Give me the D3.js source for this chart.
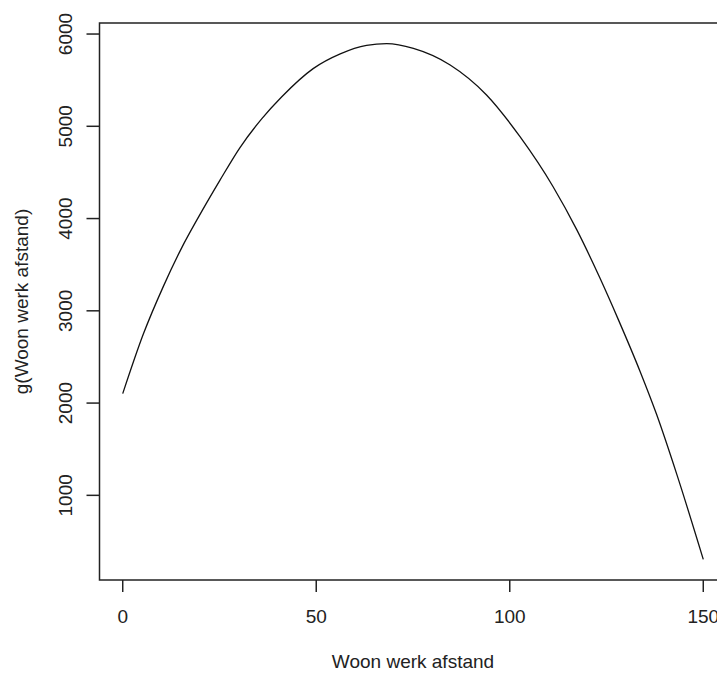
<!DOCTYPE html>
<html>
<head>
<meta charset="utf-8">
<script src="https://cdn.jsdelivr.net/npm/d3@7"></script>
<style>
  body { margin: 0; background: #fff; }
  svg { display: block; }
  text { font-family: "Liberation Sans", Arial, sans-serif; fill: #222; }
</style>
</head>
<body>
<svg id="chart" width="717" height="673"></svg>
<script>
// curve
const afstand = [0, 5.3, 10.5, 15.2, 19.5, 25.1, 30.3, 35.9, 41.1, 49.2, 56.2, 63, 68.2, 75.1, 84.6, 94, 102.6, 111.2, 117.3, 123.3, 128, 133.7, 138, 143.1, 150];
const gWaarde = [2102, 2745, 3265, 3680, 4010, 4414, 4770, 5080, 5320, 5625, 5785, 5877, 5896, 5845, 5665, 5340, 4890, 4345, 3880, 3355, 2910, 2340, 1870, 1235, 306];
const xTicks = [0, 50, 100, 150];
const yTicks = [1000, 2000, 3000, 4000, 5000, 6000];

const xLabel = 'Woon werk afstand';
const yLabel = 'g(Woon werk afstand)';

const svg = d3.select('#chart');
const box = { left: 99.5, right: 726.5, top: 23, bottom: 580 };

// R style 4% padding
const pad = (ext) => { const d = (ext[1] - ext[0]) * 0.04; return [ext[0] - d, ext[1] + d]; };

const x = d3.scaleLinear().domain(pad(d3.extent(afstand))).range([box.left, box.right]);
const y = d3.scaleLinear().domain(pad(d3.extent(gWaarde))).range([box.bottom, box.top]);

const data = afstand.map((a, i) => ({ x: a, y: gWaarde[i] }));

// kader
svg.append('rect')
    .attr('x', box.left).attr('y', box.top)
    .attr('width', box.right - box.left).attr('height', box.bottom - box.top)
    .attr('fill', 'none').attr('stroke', '#222').attr('stroke-width', 1.5);

// lijn
const line = d3.line().x(d => x(d.x)).y(d => y(d.y)).curve(d3.curveMonotoneX);
svg.append('path')
    .datum(data)
    .attr('d', line)
    .attr('fill', 'none')
    .attr('stroke', '#111')
    .attr('stroke-width', 1.3);

// x as
const xAxis = svg.append('g');
xAxis.selectAll('line')
    .data(xTicks)
    .enter()
    .append('line')
    .attr('x1', d => x(d)).attr('x2', d => x(d))
    .attr('y1', box.bottom).attr('y2', box.bottom + 12)
    .attr('stroke', '#222').attr('stroke-width', 1.5);
xAxis.selectAll('text')
    .data(xTicks)
    .enter()
    .append('text')
    .attr('x', d => x(d))
    .attr('y', 623)
    .attr('text-anchor', 'middle')
    .attr('font-size', 19)
    .text(d => d);

// y as
const yAxis = svg.append('g');
yAxis.selectAll('line')
    .data(yTicks)
    .enter()
    .append('line')
    .attr('x1', box.left - 13).attr('x2', box.left)
    .attr('y1', d => y(d)).attr('y2', d => y(d))
    .attr('stroke', '#222').attr('stroke-width', 1.5);
yAxis.selectAll('text')
    .data(yTicks)
    .enter()
    .append('text')
    .attr('transform', d => `translate(72,${y(d)}) rotate(-90)`)
    .attr('text-anchor', 'middle')
    .attr('font-size', 19)
    .text(d => d);

// titels
svg.append('text')
    .attr('x', (box.left + box.right) / 2)
    .attr('y', 668)
    .attr('text-anchor', 'middle')
    .attr('font-size', 19)
    .text(xLabel);

svg.append('text')
    .attr('transform', `translate(28,${(box.top + box.bottom) / 2}) rotate(-90)`)
    .attr('text-anchor', 'middle')
    .attr('font-size', 19)
    .text(yLabel);
</script>
</body>
</html>
